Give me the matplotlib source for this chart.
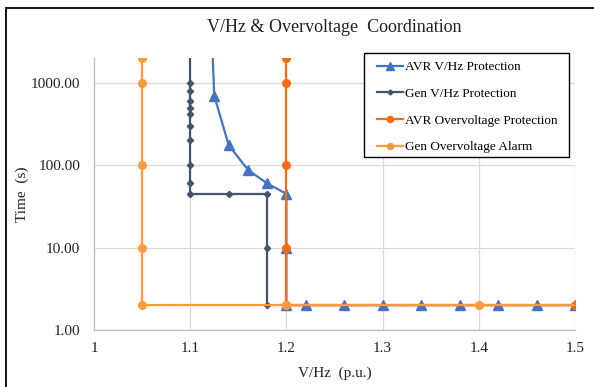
import matplotlib
matplotlib.use("Agg")
import matplotlib.pyplot as plt
from matplotlib.patches import Rectangle
from matplotlib.ticker import FixedLocator, FixedFormatter, NullLocator

# ---- data ----
avr_vhz_x = [1.12, 1.125, 1.14, 1.16, 1.18, 1.2, 1.2, 1.2, 1.22, 1.26, 1.30, 1.34, 1.38, 1.42, 1.46, 1.50]
avr_vhz_t = [20000, 700, 175, 88, 60, 45, 10, 2, 2, 2, 2, 2, 2, 2, 2, 2]

gen_vhz_x = [1.1, 1.1, 1.1, 1.1, 1.1, 1.1, 1.1, 1.1, 1.1, 1.1, 1.1, 1.14, 1.18, 1.18, 1.18]
gen_vhz_t = [10000, 1000, 800, 600, 500, 420, 300, 200, 100, 60, 45, 45, 45, 10, 2]

avr_ov_x = [1.2, 1.2, 1.2, 1.2, 1.2, 1.5]
avr_ov_t = [2000, 1000, 100, 10, 2, 2]

gen_alarm_x = [1.05, 1.05, 1.05, 1.05, 1.05, 1.2, 1.4, 1.6]
gen_alarm_t = [2000, 1000, 100, 10, 2, 2, 2, 2]

series_labels = ["AVR V/Hz Protection", "Gen V/Hz Protection",
                 "AVR Overvoltage Protection", "Gen Overvoltage Alarm"]
x_ticks = [1, 1.1, 1.2, 1.3, 1.4, 1.5]
x_tick_labels = ["1", "1.1", "1.2", "1.3", "1.4", "1.5"]
y_ticks = [1, 10, 100, 1000]
y_tick_labels = ["1.00", "10.00", "100.00", "1000.00"]
title = "V/Hz & Overvoltage  Coordination"
x_label = "V/Hz  (p.u.)"
y_label = "Time  (s)"

# ---- style ----
plt.rcParams['font.family'] = ['Liberation Serif', 'DejaVu Serif']
W, H = 594, 387
fig = plt.figure(figsize=(W / 100, H / 100), dpi=100)
fig.patch.set_facecolor("white")

ax = fig.add_axes([94 / W, 1 - 330 / H, (575 - 94) / W, (330 - 58) / H])

c_blue = "#4472C4"
c_dark = "#44546A"
c_orange = "#FF6A0D"
c_light = "#FF9A3C"

ax.plot(avr_vhz_x, avr_vhz_t, color=c_blue, lw=1.6, marker="^", ms=6.5,
        label=series_labels[0], zorder=3)
ax.plot(gen_vhz_x, gen_vhz_t, color=c_dark, lw=1.6, marker="D", ms=3.2,
        label=series_labels[1], zorder=4)
ax.plot(avr_ov_x, avr_ov_t, color=c_orange, lw=1.6, marker="o", ms=5.5,
        label=series_labels[2], zorder=5)
ax.plot(gen_alarm_x, gen_alarm_t, color=c_light, lw=1.6, marker="o", ms=5.5,
        label=series_labels[3], zorder=6)

ax.set_yscale("log")
ax.set_xlim(1.0, 1.5)
ax.set_ylim(1, 2000)

ax.xaxis.set_major_locator(FixedLocator(x_ticks))
ax.xaxis.set_major_formatter(FixedFormatter(x_tick_labels))
ax.yaxis.set_major_locator(FixedLocator(y_ticks))
ax.yaxis.set_major_formatter(FixedFormatter(y_tick_labels))
ax.yaxis.set_minor_locator(NullLocator())
ax.xaxis.set_minor_locator(NullLocator())

ax.grid(True, which="major", color="#D9D9D9", lw=0.9, zorder=0)
ax.set_axisbelow(True)
for s in ["top", "right"]:
    ax.spines[s].set_visible(False)
for s in ["left", "bottom"]:
    ax.spines[s].set_color("#BFBFBF")
    ax.spines[s].set_linewidth(0.9)

ax.tick_params(axis="both", length=0, labelsize=11, colors="#222222", pad=9)
ax.tick_params(axis="y", pad=10)

ax.set_title(title, fontsize=13, pad=19, color="#222222")
ax.set_xlabel(x_label, fontsize=11, color="#222222", labelpad=8)
ax.set_ylabel(y_label, fontsize=11, color="#222222", labelpad=1)

# legend frame drawn at its exact place, legend entries inside it
fig.add_artist(Rectangle((364 / W, 1 - 157 / H), (569 - 364) / W, (157 - 53) / H,
                         transform=fig.transFigure, facecolor="white",
                         edgecolor="black", lw=1.0, zorder=9))
handles, labels = ax.get_legend_handles_labels()
leg = fig.legend(handles, labels, loc="upper left",
                 bbox_to_anchor=(377 / W, 1 - 61 / H),
                 bbox_transform=fig.transFigure, borderaxespad=0,
                 fontsize=9.5, handlelength=2.0, handletextpad=0.15,
                 labelspacing=1.1, borderpad=0.0, frameon=False,
                 markerscale=0.8)
leg.set_zorder(10)

# outer chart frame (cut at right and bottom)
fig.add_artist(Rectangle((6 / W, -0.2), 1.2, 1 - 8 / H + 0.2,
                         transform=fig.transFigure, fill=False,
                         edgecolor="black", lw=1.3, clip_on=False))

fig.savefig("out.png", dpi=100)
